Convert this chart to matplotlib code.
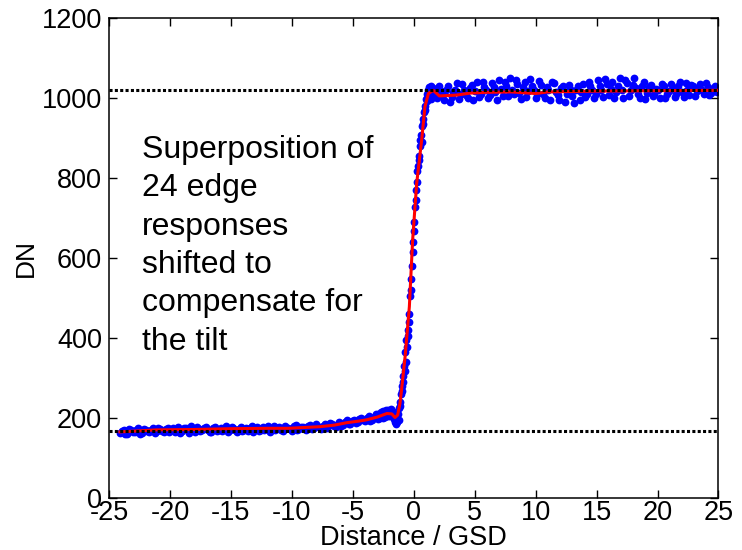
import matplotlib
matplotlib.use("Agg")
import matplotlib.pyplot as plt

# Edge samples left of the edge (two interleaved rows of the superposed profiles)
left_x = [-24.1, -23.8, -23.5, -23.2, -22.9, -22.6, -22.3, -22.0, -21.7, -21.4,
          -21.1, -20.8, -20.5, -20.2, -19.9, -19.6, -19.3, -19.0, -18.7, -18.4,
          -18.1, -17.8, -17.5, -17.2, -16.9, -16.6, -16.3, -16.0, -15.7, -15.4,
          -15.1, -14.8, -14.5, -14.2, -13.9, -13.6, -13.3, -13.0, -12.7, -12.4,
          -12.1, -11.8, -11.5, -11.2, -10.9, -10.6, -10.3, -10.0, -9.7, -9.4,
          -9.1, -8.8, -8.5, -8.2, -7.9, -7.6, -7.3, -7.0, -6.7, -6.4,
          -6.1, -5.8, -5.5, -5.2, -4.9, -4.6, -4.3, -4.0, -3.7, -3.4,
          -3.1,
          -23.95, -23.65, -23.35, -23.05, -22.75, -22.45, -22.15, -21.85, -21.55, -21.25,
          -20.95, -20.65, -20.35, -20.05, -19.75, -19.45, -19.15, -18.85, -18.55, -18.25,
          -17.95, -17.65, -17.35, -17.05, -16.75, -16.45, -16.15, -15.85, -15.55, -15.25,
          -14.95, -14.65, -14.35, -14.05, -13.75, -13.45, -13.15, -12.85, -12.55, -12.25,
          -11.95, -11.65, -11.35, -11.05, -10.75, -10.45, -10.15, -9.85, -9.55, -9.25,
          -8.95, -8.65, -8.35, -8.05, -7.75, -7.45, -7.15, -6.85, -6.55, -6.25,
          -5.95, -5.65, -5.35, -5.05, -4.75, -4.45, -4.15, -3.85, -3.55, -3.25]
left_y = [163, 170, 160, 172, 166, 175, 163, 171, 165, 176,
          168, 174, 165, 177, 170, 166, 178, 169, 175, 164,
          173, 179, 168, 176, 171, 165, 178, 172, 168, 180,
          170, 176, 167, 178, 172, 168, 181, 173, 169, 179,
          174, 167, 182, 175, 170, 180, 176, 169, 183, 174,
          179, 171, 184, 177, 182, 174, 187, 180, 185, 178,
          191, 184, 195, 186, 197, 190, 202, 193, 205, 197,
          210,
          168, 162, 174, 165, 170, 161, 174, 168, 172, 163,
          175, 169, 173, 166, 176, 171, 164, 177, 170, 180,
          167, 174, 171, 178, 166, 175, 169, 177, 173, 166,
          179, 171, 174, 168, 177, 175, 166, 178, 172, 170,
          180, 173, 171, 178, 168, 177, 173, 180, 171, 178,
          175, 181, 173, 185, 178, 181, 176, 189, 182, 186,
          181, 190, 187, 193, 188, 198, 195, 200, 194, 204]

# Samples across the edge itself
edge_x = [-3.0, -2.95, -2.9, -2.85, -2.8, -2.75, -2.7, -2.65, -2.6, -2.55,
          -2.5, -2.45, -2.4, -2.35, -2.3, -2.25, -2.2, -2.15, -2.1, -2.05,
          -2.0, -1.95, -1.9, -1.85, -1.8, -1.75, -1.7, -1.65, -1.6, -1.55,
          -1.5, -1.45, -1.4, -1.35, -1.3, -1.25, -1.2, -1.15, -1.1, -1.05,
          -1.0, -0.95, -0.9, -0.85, -0.8, -0.75, -0.7, -0.65, -0.6, -0.55,
          -0.5, -0.45, -0.4, -0.35, -0.3, -0.25, -0.2, -0.15, -0.1, -0.05,
          0.0, 0.05, 0.1, 0.15, 0.2, 0.25, 0.3, 0.35, 0.4, 0.45,
          0.5, 0.55, 0.6, 0.65, 0.7, 0.75, 0.8, 0.85, 0.9, 0.95,
          1.0, 1.05, 1.1, 1.15, 1.2, 1.25, 1.3, 1.35, 1.4, 1.45,
          1.5]
edge_y = [206, 199, 212, 203, 209, 200, 215, 205, 211, 202,
          218, 208, 214, 204, 220, 210, 216, 206, 222, 212,
          218, 207, 224, 213, 219, 205, 215, 198, 210, 190,
          203, 186, 199, 192, 212, 196, 225, 240, 231, 262,
          280, 268, 305, 292, 330, 318, 365, 342, 395, 378,
          420, 405, 462, 441, 505, 520, 548, 580, 615, 640,
          668, 690, 728, 745, 772, 790, 818, 832, 855, 846,
          880, 895, 908, 892, 930, 948, 935, 965, 982, 970,
          998, 1010, 994, 1020, 1005, 1028, 1012, 1022, 998, 1030,
          1008]

# Samples right of the edge
right_x = [1.6, 1.9, 2.2, 2.5, 2.8, 3.1, 3.4, 3.7, 4.0, 4.3,
           4.6, 4.9, 5.2, 5.5, 5.8, 6.1, 6.4, 6.7, 7.0, 7.3,
           7.6, 7.9, 8.2, 8.5, 8.8, 9.1, 9.4, 9.7, 10.0, 10.3,
           10.6, 10.9, 11.2, 11.5, 11.8, 12.1, 12.4, 12.7, 13.0, 13.3,
           13.6, 13.9, 14.2, 14.5, 14.8, 15.1, 15.4, 15.7, 16.0, 16.3,
           16.6, 16.9, 17.2, 17.5, 17.8, 18.1, 18.4, 18.7, 19.0, 19.3,
           19.6, 19.9, 20.2, 20.5, 20.8, 21.1, 21.4, 21.7, 22.0, 22.3,
           22.6, 22.9, 23.2, 23.5, 23.8, 24.1, 24.4, 24.7,
           1.75, 2.05, 2.35, 2.65, 2.95, 3.25, 3.55, 3.85, 4.15, 4.45,
           4.75, 5.05, 5.35, 5.65, 5.95, 6.25, 6.55, 6.85, 7.15, 7.45,
           7.75, 8.05, 8.35, 8.65, 8.95, 9.25, 9.55, 9.85, 10.15, 10.45,
           10.75, 11.05, 11.35, 11.65, 11.95, 12.25, 12.55, 12.85, 13.15, 13.45,
           13.75, 14.05, 14.35, 14.65, 14.95, 15.25, 15.55, 15.85, 16.15, 16.45,
           16.75, 17.05, 17.35, 17.65, 17.95, 18.25, 18.55, 18.85, 19.15, 19.45,
           19.75, 20.05, 20.35, 20.65, 20.95, 21.25, 21.55, 21.85, 22.15, 22.45,
           22.75, 23.05, 23.35, 23.65, 23.95, 24.25, 24.55, 24.85]
right_y = [1025, 1002, 1018, 995, 1030, 1004, 1022, 998, 1035, 1008,
           1026, 996, 1040, 1012, 1028, 1000, 1038, 1015, 1045, 1005,
           1030, 1052, 1010, 1036, 998, 1042, 1018, 1032, 1002, 1044,
           1012, 1028, 995, 1038, 1008, 1025, 990, 1034, 1005, 1022,
           997, 1036, 1012, 1030, 1002, 1045, 1020, 1048, 1008, 1040,
           1015, 1050, 1002, 1038, 1020, 1052, 1010, 1032, 998, 1028,
           1005, 1024, 1000, 1030, 1012, 1035, 1004, 1032, 1015, 1038,
           1008, 1030, 1018, 1036, 1010, 1028, 1014, 1032,
           1012, 1032, 1006, 1020, 992, 1015, 1038, 1010, 1022, 1000,
           1034, 1018, 1004, 1042, 1020, 1008, 1028, 996, 1024, 1040,
           1006, 1022, 1046, 1014, 1028, 1003, 1048, 1020, 1010, 1034,
           1000, 1020, 1042, 1016, 996, 1030, 1010, 1024, 988, 1032,
           1016, 1004, 1040, 1020, 1010, 1032, 1004, 1036, 1024, 1000,
           1030, 1022, 1046, 1006, 1034, 1026, 1002, 1040, 1014, 1034,
           1010, 1020, 1036, 1002, 1018, 1026, 1012, 1040, 1004, 1022,
           1034, 1006, 1026, 1020, 1038, 1008, 1024, 1016]

# Smoothed edge response
fit_x = [-24.1, -21.1, -18.0, -15.0, -12.0, -10.3, -7.7, -6.5, -5.5, -4.5,
         -3.9, -3.0, -2.2, -1.8, -1.54, -1.32, -1.13, -1.0, -0.71, -0.36,
         -0.09, 0.24, 0.65, 0.92, 1.2, 1.6, 2.1, 3.5, 4.6, 6.0,
         8.0, 10.0, 11.0, 15.0, 20.0, 25.0]
fit_y = [166, 171, 172, 174, 175, 175, 179, 183, 189, 193,
         196, 203, 212, 211, 202, 208, 237, 271, 354, 479,
         646, 787, 896, 979, 1012, 1020, 1006, 1008, 1013, 1015,
         1016, 1012, 1016, 1018, 1019, 1020]

# Dark and bright reference levels
levels = [1022, 168]

x_ticks = [-25, -20, -15, -10, -5, 0, 5, 10, 15, 20, 25]
y_ticks = [0, 200, 400, 600, 800, 1000, 1200]

note = "Superposition of\n24 edge\nresponses\nshifted to\ncompensate for\nthe tilt"

matplotlib.rcParams["font.family"] = ["Liberation Sans", "DejaVu Sans"]
matplotlib.rcParams["text.color"] = "black"
matplotlib.rcParams["axes.unicode_minus"] = False

fig = plt.figure(figsize=(7.42, 5.5), dpi=100)
ax = fig.add_axes([0.1469, 0.094, 0.8214, 0.8727])

# Samples first, fit on top, reference levels on top of everything
for xs, ys in ((left_x, left_y), (edge_x, edge_y), (right_x, right_y)):
    ax.plot(xs, ys, linestyle="none", marker="o", markersize=5.6,
            markerfacecolor="#0000ff", markeredgewidth=0, zorder=2)
ax.plot(fit_x, fit_y, color="#ff0000", linewidth=2.2, zorder=3)
for level in levels:
    ax.plot([-25, 25], [level, level], color="black", linewidth=2.2,
            dashes=(1, 0.75), zorder=4)

ax.set_xlim(-25, 25)
ax.set_ylim(0, 1200)
ax.set_xticks(x_ticks)
ax.set_yticks(y_ticks)
ax.tick_params(direction="in", top=True, right=True, length=6, width=1,
               labelsize=19.5, colors="black")
ax.tick_params(axis="x", pad=1)
ax.tick_params(axis="y", pad=5)
for spine in ax.spines.values():
    spine.set_linewidth(1.1)

ax.set_xlabel("Distance / GSD", fontsize=19.5)
ax.xaxis.set_label_coords(0.5, -0.056)
ax.set_ylabel("DN", fontsize=19)
ax.yaxis.set_label_coords(-0.116, 0.5)

ax.text(-22.3, 908, note, fontsize=23, ha="left", va="top", linespacing=1.36)

fig.savefig("out.png", dpi=100, facecolor="white")
